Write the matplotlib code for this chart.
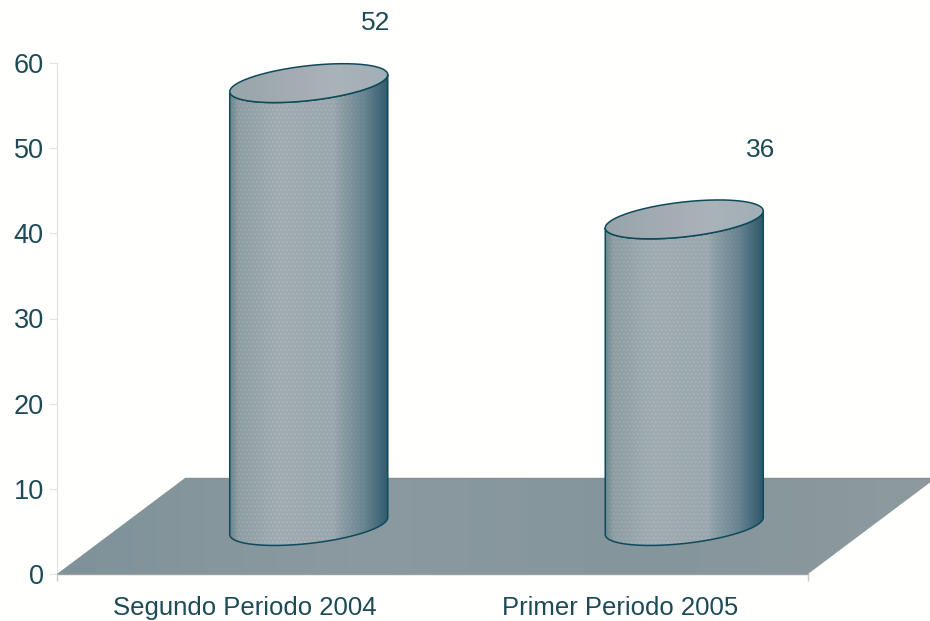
import numpy as np
import matplotlib
matplotlib.use("Agg")
import matplotlib.pyplot as plt
from matplotlib.colors import LinearSegmentedColormap
from matplotlib.patches import PathPatch, Polygon
from matplotlib.path import Path

categories = ["Segundo Periodo 2004", "Primer Periodo 2005"]
values = [52, 36]
y_ticks = [0, 10, 20, 30, 40, 50, 60]

TEXT = "#1d4a57"
EDGE = "#0e4a5c"
AXIS = "#e2e2dd"

plt.rcParams["font.family"] = ["Liberation Sans", "DejaVu Sans"]

W, H = 930, 621
fig = plt.figure(figsize=(W / 100, H / 100), dpi=100, facecolor="#fffffe")
ax = fig.add_axes([57 / W, 1 - 574 / H, 751 / W, 511 / H], facecolor="none")
ax.set_xlim(0, len(categories))
ax.set_ylim(0, 60)

# pixel -> data scale
PX = len(categories) / 751
PY = 60 / 511
DEPTH_X = 128 * PX
DEPTH_Y = 96 * PY

# floor
floor_cmap = LinearSegmentedColormap.from_list("floor", ["#7f9299", "#8b9aa0", "#84959c", "#8e9a9e"])
floor = Polygon([(0, 0), (DEPTH_X, DEPTH_Y), (2 + DEPTH_X, DEPTH_Y), (2, 0)],
                closed=True, transform=ax.transData, fc="none", ec="none")
ax.add_patch(floor)
im = ax.imshow(np.linspace(0, 1, 256).reshape(1, -1), cmap=floor_cmap, aspect="auto",
               extent=(0, 2 + DEPTH_X, 0, DEPTH_Y), zorder=1)
im.set_clip_box(fig.bbox)
im.set_clip_path(floor)
ax.plot([DEPTH_X, 2 + DEPTH_X], [DEPTH_Y, DEPTH_Y], color="#858e92", lw=1, clip_on=False, zorder=1.1)
ax.plot([0, 2], [0, 0], color="#9aa0a2", lw=1, clip_on=False, zorder=1.1)

side_cmap = LinearSegmentedColormap.from_list(
    "side",
    [(0, "#6f868d"), (0.05, "#8d9da2"), (0.3, "#a0abaf"), (0.66, "#99a6ab"),
     (0.68, "#8f9fa6"), (0.85, "#668390"), (1, "#2f5a6c")])
top_cmap = LinearSegmentedColormap.from_list("top", ["#98a5aa", "#a2acb0", "#a9b3b8", "#a2afb6"])


def ring(cx, cy, t):
    # sheared ellipse, in data units
    x = cx + 79 * PX * np.cos(t)
    y = cy + (8.5 * np.cos(t) + 17.5 * np.sin(t)) * PY
    return x, y


def cylinder(i, value):
    cx = i + 0.5 + DEPTH_X / 2
    base = DEPTH_Y / 2
    top = base + value
    t_low = np.linspace(np.pi, 2 * np.pi, 120)
    t_all = np.linspace(0, 2 * np.pi, 240)

    bx, by = ring(cx, base, t_low)
    tx, ty = ring(cx, top, t_low)
    verts = np.r_[np.c_[bx, by], np.c_[tx, ty][::-1], [[bx[0], by[0]]]]
    side = PathPatch(Path(verts), fc="none", ec=EDGE, lw=1.1, zorder=3, clip_on=False)
    ax.add_patch(side)

    # horizontal shading with the fine dotted texture
    x0, x1 = bx[0], bx[-1]
    y0, y1 = by.min() - 2 * PY, ty.max() + 24 * PY
    nx, ny = 316, int((y1 - y0) / PY * 2)
    xx, yy = np.meshgrid(np.arange(nx) / 2, np.arange(ny) / 2)
    frac = xx / xx.max()
    rgb = side_cmap(frac)[..., :3]
    row = (yy // 4) % 2
    dots = (yy % 4 < 1.5) & ((xx + 2 * row) % 4 < 1.5)
    fade = np.clip((0.95 - frac) / 0.3, 0, 1) * np.clip(frac / 0.04, 0, 1)
    rgb = np.clip(rgb + dots[..., None] * fade[..., None] * 0.07, 0, 1)
    body = ax.imshow(rgb, origin="lower", aspect="auto", extent=(x0, x1, y0, y1),
                     interpolation="bilinear", zorder=2)
    body.set_clip_box(fig.bbox)
    body.set_clip_path(side)

    # top face
    ex, ey = ring(cx, top, t_all)
    cap = PathPatch(Path(np.c_[ex, ey]), fc="none", ec=EDGE, lw=1.1, zorder=5, clip_on=False)
    ax.add_patch(cap)
    face = ax.imshow(np.linspace(0, 1, 64).reshape(1, -1), cmap=top_cmap, aspect="auto",
                     extent=(x0, x1, ey.min(), ey.max()), zorder=4)
    face.set_clip_box(fig.bbox)
    face.set_clip_path(cap)


for i, v in enumerate(values):
    cylinder(i, v)

ax.set_xlim(0, len(categories))
ax.set_ylim(0, 60)

# value labels sit up and to the right of each cylinder
label_dx = [67, 76]
label_dy = [12.7, 13.8]
for i, v in enumerate(values):
    ax.text(i + 0.5 + DEPTH_X / 2 + label_dx[i] * PX, v + label_dy[i],
            str(v), ha="center", va="center", fontsize=19, color=TEXT, clip_on=False)

for s in ["top", "right", "bottom"]:
    ax.spines[s].set_visible(False)
ax.spines["left"].set_color(AXIS)
ax.spines["left"].set_zorder(0)
ax.set_yticks(y_ticks)
ax.tick_params(axis="y", length=6, color=AXIS, labelsize=19.5, labelcolor=TEXT, pad=3.5)
ax.set_xticks([0, 2])
ax.set_xticklabels([])
ax.tick_params(axis="x", length=5, color="#c8c8c4", width=1)
ax.set_xticks([i + 0.5 for i in range(len(categories))], minor=True)
ax.set_xticklabels(categories, minor=True)
ax.tick_params(axis="x", which="minor", length=0, labelsize=18.5, labelcolor=TEXT, pad=16)

fig.savefig("out.png", dpi=100, facecolor=fig.get_facecolor())
